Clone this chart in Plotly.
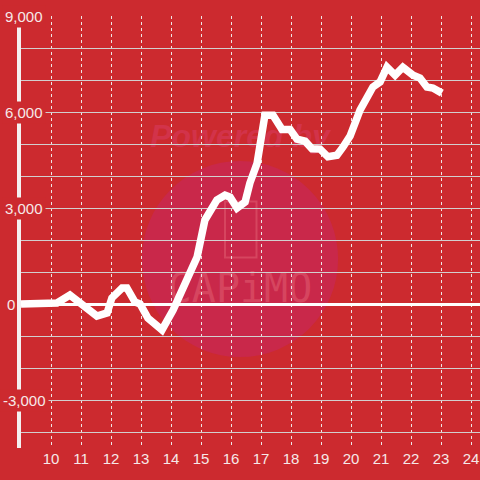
import plotly.graph_objects as go

# 時刻 (時) と 累積値
hours = [9.0, 10.05, 10.2, 10.63, 10.97, 11.3, 11.53, 11.87, 12.03, 12.37, 12.53,
         12.8, 12.97, 13.23, 13.63, 13.7, 14.07, 14.4, 14.87, 15.13, 15.53, 15.8,
         15.97, 16.2, 16.47, 16.63, 16.87, 17.13, 17.4, 17.7, 17.97, 18.2, 18.47,
         18.7, 18.97, 19.23, 19.53, 19.73, 19.97, 20.3, 20.57, 20.73, 20.97, 21.2,
         21.47, 21.73, 22.07, 22.3, 22.53, 22.73, 23.03]
values = [0, 0, 30, 280, 30, -280, -375, -280, 190, 500, 500,
          60, 0, -440, -750, -810, -190, 530, 1470, 2625, 3250, 3400,
          3340, 3000, 3190, 3780, 4400, 5900, 5900, 5450, 5450, 5150, 5090,
          4850, 4840, 4600, 4650, 4900, 5250, 6060, 6530, 6780, 6940, 7400,
          7150, 7400, 7150, 7060, 6780, 6750, 6590]

x_ticks = list(range(10, 25))
y_label_vals = [-3000, 0, 3000, 6000, 9000]
y_grid_vals = list(range(-4000, 10000, 1000))

BG = "#cc2a2f"
GRID = "#d2cfcf"
TXT = "#f6e8e8"
FONT = "Liberation Sans"

fig = go.Figure()

# 透かし (Powered by CAPIMO) - 線の下に描く
fig.add_shape(type="circle", xref="x", yref="y", x0=13.03, x1=19.57, y0=-1660, y1=4470,
              fillcolor="#c9284a", line_width=0, layer="below")
fig.add_shape(type="rect", xref="x", yref="y", x0=15.8, x1=16.85, y0=1450, y1=3200,
              line=dict(color="#d6455f", width=2), layer="below")
fig.add_shape(type="rect", xref="x", yref="y", x0=13.2, x1=19.4, y0=4800, y1=5900,
              line_width=0, layer="below",
              label=dict(text="<b><i>Powered by</i></b>",
                         font=dict(size=32, color="#d2334a", family=FONT)))
fig.add_shape(type="rect", xref="x", yref="y", x0=13.5, x1=19.1, y0=-100, y1=1300,
              line_width=0, layer="below",
              label=dict(text="CAPiMO",
                         font=dict(size=40, color="#d6455f", family="DejaVu Sans Mono")))

fig.add_trace(go.Scatter(x=hours, y=values, mode="lines", cliponaxis=False,
                         line=dict(color="white", width=7.5), hoverinfo="skip"))

for v in y_label_vals:
    if v == 0:
        fig.add_annotation(x=9, y=v, text="0", showarrow=False, xanchor="right",
                           xshift=-4, font=dict(size=15, color=TXT, family=FONT))
    else:
        fig.add_annotation(x=9, y=v, text=f"{v:,}", showarrow=False, xanchor="center",
                           bgcolor=BG, borderpad=2, xshift=3,
                           font=dict(size=15, color=TXT, family=FONT))

fig.update_xaxes(range=[9, 24.3], tickvals=x_ticks, ticktext=[str(t) for t in x_ticks],
                 showgrid=True, gridcolor="#eee6e6", griddash="dot", gridwidth=1,
                 zeroline=False, showline=False, ticks="", automargin=False,
                 tickfont=dict(size=15, color=TXT, family=FONT))
fig.update_yaxes(range=[-4500, 9000], tickvals=y_grid_vals, showticklabels=False,
                 showgrid=True, gridcolor=GRID, gridwidth=1, automargin=False,
                 zeroline=True, zerolinecolor="white", zerolinewidth=2.5,
                 showline=True, linecolor="#f4f0f0", linewidth=4, ticks="")

fig.update_layout(width=480, height=480, paper_bgcolor=BG, plot_bgcolor=BG,
                  margin=dict(l=21, r=0, t=16, b=32, autoexpand=False), showlegend=False)

# ページ既定の余白を消す
fig.write_html("out.html", config={"displayModeBar": False},
               post_script="document.body.style.margin='0';"
                           "document.body.style.overflow='hidden';")
